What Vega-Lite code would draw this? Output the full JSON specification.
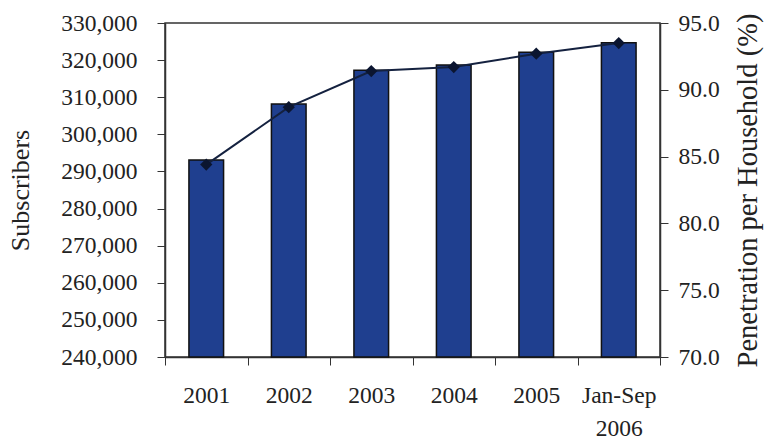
{
  "$schema": "https://vega.github.io/schema/vega-lite/v6.json",
  "width": 495,
  "height": 334,
  "autosize": {"type": "none"},
  "padding": {"left": 165, "top": 23, "right": 104, "bottom": 83},
  "background": "white",
  "config": {
    "view": {"stroke": "#333", "strokeWidth": 1.5},
    "font": "Liberation Serif",
    "axis": {
      "labelFont": "Liberation Serif",
      "titleFont": "Liberation Serif",
      "labelColor": "#222",
      "titleColor": "#222",
      "domainColor": "#333",
      "tickColor": "#333",
      "labelFontSize": 23.5,
      "titleFontSize": 26,
      "titleFontWeight": "normal",
      "grid": false
    }
  },
  "data": {
    "values": [
      {"period": "2001", "subscribers": 293100, "penetration": 84.4},
      {"period": "2002", "subscribers": 308200, "penetration": 88.7},
      {"period": "2003", "subscribers": 317300, "penetration": 91.4},
      {"period": "2004", "subscribers": 318700, "penetration": 91.7},
      {"period": "2005", "subscribers": 322100, "penetration": 92.7},
      {"period": "Jan-Sep 2006", "subscribers": 324700, "penetration": 93.5}
    ]
  },
  "encoding": {
    "x": {
      "field": "period",
      "type": "nominal",
      "sort": null,
      "scale": {"paddingInner": 0, "paddingOuter": 0},
      "axis": {
        "title": null,
        "labelAngle": 0,
        "tickBand": "extent",
        "tickSize": 8,
        "labelPadding": 18,
        "labelLineHeight": 33,
        "labelExpr": "split(datum.label, ' ')",
        "domainWidth": 1.5
      }
    }
  },
  "layer": [
    {
      "mark": {"type": "bar", "width": {"band": 0.42}, "color": "#1f3f8f", "stroke": "#111", "strokeWidth": 1.5},
      "encoding": {
        "y": {
          "field": "subscribers",
          "type": "quantitative",
          "scale": {"domain": [240000, 330000], "nice": false, "zero": false},
          "axis": {
            "title": "Subscribers",
            "format": ",d",
            "values": [240000, 250000, 260000, 270000, 280000, 290000, 300000, 310000, 320000, 330000],
            "tickSize": 8,
            "labelPadding": 20,
            "titlePadding": 27,
            "domainWidth": 1.5
          }
        },
        "y2": {"datum": 240000}
      }
    },
    {
      "mark": {"type": "line", "color": "#14213f", "strokeWidth": 2, "point": {"shape": "diamond", "size": 150, "filled": true, "color": "#0b1530"}},
      "encoding": {
        "y": {
          "field": "penetration",
          "type": "quantitative",
          "scale": {"domain": [70, 95], "nice": false, "zero": false},
          "axis": {
            "orient": "right",
            "title": "Penetration per Household (%)",
            "titleAngle": -90,
            "titleFontSize": 28.5,
            "titleBaseline": "top",
            "format": ".1f",
            "values": [70, 75, 80, 85, 90, 95],
            "tickSize": 8,
            "labelPadding": 10,
            "titlePadding": 14,
            "domainWidth": 1.5
          }
        }
      }
    }
  ],
  "resolve": {"scale": {"y": "independent"}}
}
